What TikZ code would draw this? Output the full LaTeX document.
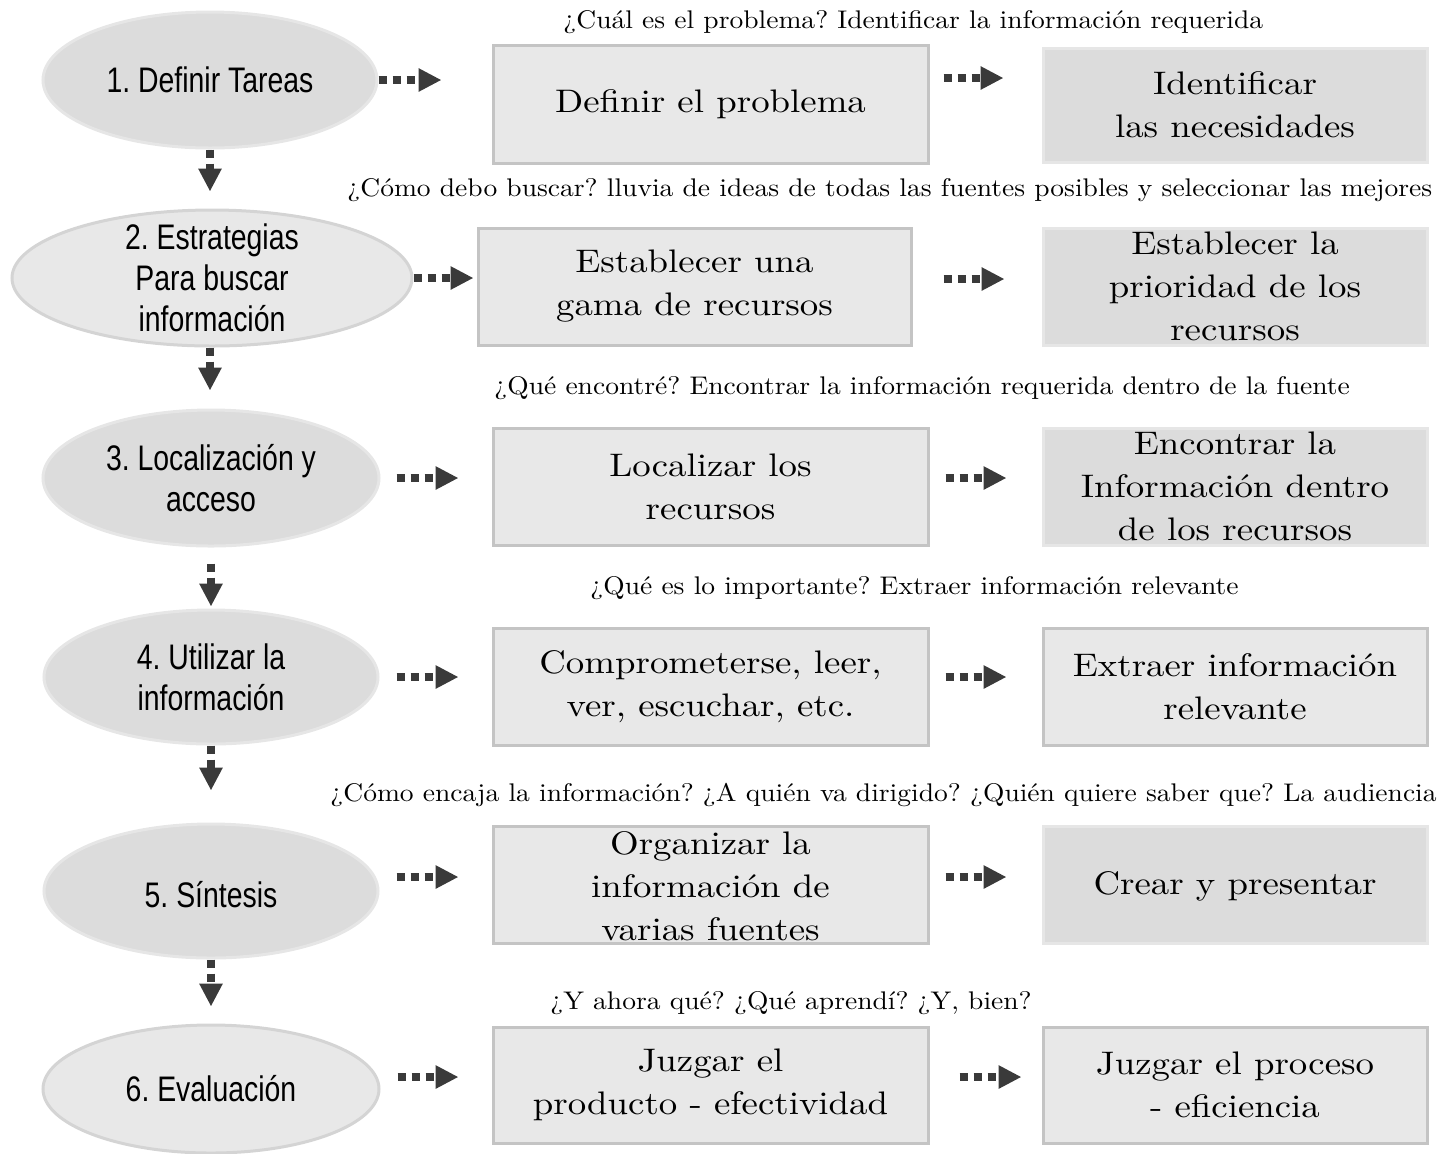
\documentclass[tikz,border=0pt]{standalone}
\usepackage{fontspec}
\usetikzlibrary{shapes.geometric,arrows.meta}

% serif for boxes and questions, condensed sans for the ovals
\newfontfamily\boxfont{lmroman10-regular.otf}[FakeStretch=1.13]
\newfontfamily\askfont{lmroman10-regular.otf}[FakeStretch=1.08]
\newfontfamily\ovalfont{Liberation Sans}[FakeStretch=0.8]
\frenchspacing

\definecolor{ovaldark}{HTML}{DCDCDC}
\definecolor{ovallight}{HTML}{E8E8E8}
\definecolor{rimlight}{HTML}{E6E6E6}
\definecolor{rimdark}{HTML}{D4D4D4}
\definecolor{boxfill}{HTML}{E8E8E8}
\definecolor{boxrim}{HTML}{C4C4C4}
\definecolor{arrowgray}{HTML}{3A3A3A}

\tikzset{
  oval/.style={ellipse, inner sep=0pt, line width=1.5pt},
  darkoval/.style={oval, fill=ovaldark, draw=rimlight},
  lightoval/.style={oval, fill=ovallight, draw=rimdark},
  ovaltext/.style={align=center, inner sep=0pt,
    font={\ovalfont\fontsize{17.75pt}{20.5pt}\selectfont}},
  panel/.style={rectangle, inner sep=0pt, line width=1.5pt},
  lightpanel/.style={panel, fill=boxfill, draw=boxrim},
  darkpanel/.style={panel, fill=ovaldark, draw=rimlight},
  midsize/.style={minimum width=217.5pt, minimum height=58.5pt},
  rightsize/.style={minimum width=192pt, minimum height=58pt},
  boxtext/.style={align=center, inner sep=0pt,
    font={\boxfont\fontsize{16.3pt}{21.5pt}\selectfont}},
  question/.style={anchor=west, inner sep=0pt,
    font={\askfont\fontsize{12.75pt}{14pt}\selectfont}},
  flow/.style={draw=arrowgray, line width=4pt, dash pattern=on 4pt off 3pt,
    -{Triangle[length=11.5pt,width=11pt]}}
}

\begin{document}
\begin{tikzpicture}[x=0.5pt,y=-0.5pt]
\useasboundingbox (0,0) rectangle (1439,1153);

% ---- stage ovals ----
\node[darkoval, minimum width=167pt, minimum height=68pt,
  label={[ovaltext]center:{1. Definir Tareas}}] (e1) at (210,80) {};
\node[lightoval, minimum width=200pt, minimum height=68pt,
  label={[ovaltext]center:{2. Estrategias\\Para buscar\\información}}] (e2) at (212,278) {};
\node[darkoval, minimum width=168pt, minimum height=68pt,
  label={[ovaltext]center:{3. Localización y\\acceso}}] (e3) at (211,478) {};
\node[darkoval, minimum width=167pt, minimum height=67pt,
  label={[ovaltext]center:{4. Utilizar la\\información}}] (e4) at (211,677) {};
\node[darkoval, minimum width=167pt, minimum height=67pt,
  label={[ovaltext,yshift=-2pt]center:{5. Síntesis}}] (e5) at (211,891) {};
\node[lightoval, minimum width=168pt, minimum height=64pt,
  label={[ovaltext]center:{6. Evaluación}}] (e6) at (211,1089) {};

% ---- middle column ----
\node[lightpanel, midsize, minimum height=59pt,
  label={[boxtext]center:{Definir el problema}}] (m1) at (710.5,104) {};
\node[lightpanel, midsize, minimum width=216.5pt,
  label={[boxtext]center:{Establecer una\\gama de recursos}}] (m2) at (694.5,286.5) {};
\node[lightpanel, midsize,
  label={[boxtext]center:{Localizar los\\recursos}}] (m3) at (710.5,486.5) {};
\node[lightpanel, midsize,
  label={[boxtext]center:{Comprometerse, leer,\\ver, escuchar, etc.}}] (m4) at (710.5,686.5) {};
\node[lightpanel, midsize,
  label={[boxtext,yshift=-1pt]center:{Organizar la\\información de\\varias fuentes}}] (m5) at (710.5,884.5) {};
\node[lightpanel, midsize, minimum height=58pt,
  label={[boxtext]center:{Juzgar el\\producto - efectividad}}] (m6) at (710.5,1085) {};

% ---- right column ----
\node[darkpanel, rightsize, minimum height=57pt,
  label={[boxtext]center:{Identificar\\las necesidades}}] (r1) at (1235,105) {};
\node[darkpanel, rightsize, minimum height=58.5pt,
  label={[boxtext]center:{Establecer la\\prioridad de los\\recursos}}] (r2) at (1235,286.5) {};
\node[darkpanel, rightsize, minimum height=58.5pt,
  label={[boxtext]center:{Encontrar la\\Información dentro\\de los recursos}}] (r3) at (1235,486.5) {};
\node[lightpanel, rightsize, minimum height=58.5pt,
  label={[boxtext]center:{Extraer información\\relevante}}] (r4) at (1235,686.5) {};
\node[darkpanel, rightsize, minimum height=58.5pt,
  label={[boxtext,yshift=-1pt]center:{Crear y presentar}}] (r5) at (1235,884.5) {};
\node[lightpanel, rightsize,
  label={[boxtext]center:{Juzgar el proceso\\- eficiencia}}] (r6) at (1235,1085) {};

% ---- guiding questions ----
\node[question] (q1) at (563,22) {¿Cuál es el problema? Identificar la información requerida};
\node[question] (q2) at (347,190) {¿Cómo debo buscar? lluvia de ideas de todas las fuentes posibles y seleccionar las mejores};
\node[question] (q3) at (494,388) {¿Qué encontré? Encontrar la información requerida dentro de la fuente};
\node[question] (q4) at (590,588) {¿Qué es lo importante? Extraer información relevante};
\node[question] (q5) at (330,795) {¿Cómo encaja la información? ¿A quién va dirigido? ¿Quién quiere saber que? La audiencia};
\node[question] (q6) at (550,1003) {¿Y ahora qué? ¿Qué aprendí? ¿Y, bien?};

% ---- stage to stage ----
\draw[flow, shorten >=8.5pt] (e1.south) -- (e1.south |- e2.north);
\draw[flow, shorten >=9pt] (e2.south -| e1.south) -- (e1.south |- e3.north);
\draw[flow, shorten <=8pt, shorten >=1pt] (e3.south) -- (e3.south |- e4.north);
\draw[flow, shorten >=16pt] (e4.south) -- (e4.south |- e5.north);
\draw[flow, shorten >=8.5pt] (e5.south) -- (e5.south |- e6.north);

% ---- stage to first step ----
\draw[flow, shorten >=25pt] (e1.east |- 0,80) -- (m1.west |- 0,80);
\draw[flow, shorten >=1.5pt] (e2.east |- 0,278) -- (m2.west |- 0,278);
\draw[flow, shorten <=8pt, shorten >=16.5pt] (e3.east |- 0,478) -- (m3.west |- 0,478);
\draw[flow, shorten <=8.5pt, shorten >=16.5pt] (e4.east |- 0,677) -- (m4.west |- 0,677);
\draw[flow, shorten <=8.5pt, shorten >=16.5pt] (e5.east |- 0,877) -- (m5.west |- 0,877);
\draw[flow, shorten <=8.5pt, shorten >=16.5pt] (e6.east |- 0,1077) -- (m6.west |- 0,1077);

% ---- first step to second step ----
\draw[flow, shorten <=7pt, shorten >=19pt] (m1.east |- 0,78) -- (r1.west |- 0,78);
\draw[flow, shorten <=15.5pt, shorten >=18.5pt] (m2.east |- 0,279) -- (r2.west |- 0,279);
\draw[flow, shorten <=8pt, shorten >=17.5pt] (m3.east |- 0,478) -- (r3.west |- 0,478);
\draw[flow, shorten <=8pt, shorten >=17.5pt] (m4.east |- 0,677) -- (r4.west |- 0,677);
\draw[flow, shorten <=8pt, shorten >=17.5pt] (m5.east |- 0,877) -- (r5.west |- 0,877);
\draw[flow, shorten <=15pt, shorten >=10pt] (m6.east |- 0,1077) -- (r6.west |- 0,1077);
\end{tikzpicture}
\end{document}
